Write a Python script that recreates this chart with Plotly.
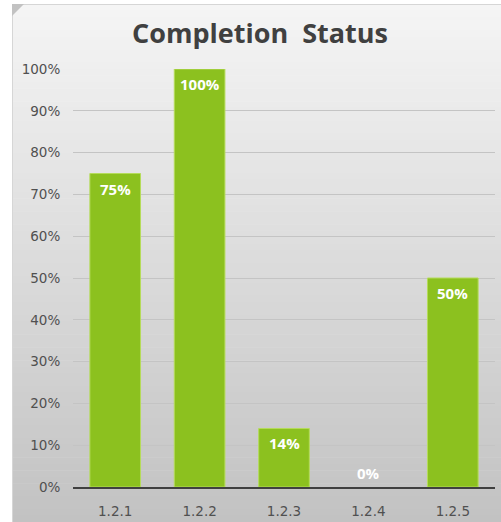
import plotly.graph_objects as go

categories = ["1.2.1", "1.2.2", "1.2.3", "1.2.4", "1.2.5"]
completion = [0.75, 1.00, 0.14, 0.00, 0.50]
tick_values = [0, 0.1, 0.2, 0.3, 0.4, 0.5, 0.6, 0.7, 0.8, 0.9, 1.0]
tick_labels = ["0%", "10%", "20%", "30%", "40%", "50%", "60%", "70%", "80%", "90%", "100%"]

W, H = 501, 522
ML, MR, MT, MB = 73, 6, 69, 35
pw, ph = W - ML - MR, H - MT - MB

def px_to_paper_x(px):
    return (px - ML) / pw

def px_to_paper_y(py):
    return (H - MB - py) / ph

fig = go.Figure()
fig.add_trace(go.Bar(
    x=categories, y=completion,
    marker=dict(color="#8cc11f",
                line=dict(color="#b5dc5a", width=[0 if v == 0 else 1 for v in completion])),
    width=0.6, hoverinfo="skip",
))

# background gradient stripes (decoration)
shapes = []
top_px, bot_px = 4, H
n = 80
c_top = (245, 245, 245)
c_bot = (194, 194, 194)
for i in range(n):
    y0 = top_px + (bot_px - top_px) * i / n
    y1 = top_px + (bot_px - top_px) * (i + 1) / n + 0.6
    t = (i + 0.5) / n
    c = tuple(int(round(c_top[k] + (c_bot[k] - c_top[k]) * t)) for k in range(3))
    shapes.append(dict(type="rect", xref="paper", yref="paper", layer="below",
                       x0=px_to_paper_x(12), x1=px_to_paper_x(W + 2),
                       y0=px_to_paper_y(y1), y1=px_to_paper_y(y0),
                       line=dict(width=0), fillcolor="rgb(%d,%d,%d)" % c))
# frame edges
shapes.append(dict(type="line", xref="paper", yref="paper", layer="below",
                   x0=px_to_paper_x(12.5), x1=px_to_paper_x(12.5),
                   y0=px_to_paper_y(4), y1=px_to_paper_y(H),
                   line=dict(color="#d6d6d6", width=1)))
shapes.append(dict(type="line", xref="paper", yref="paper", layer="below",
                   x0=px_to_paper_x(12), x1=px_to_paper_x(W),
                   y0=px_to_paper_y(4.5), y1=px_to_paper_y(4.5),
                   line=dict(color="#d6d6d6", width=1)))
# corner fold triangle
shapes.append(dict(type="path", xref="paper", yref="paper", layer="below",
                   path="M %f,%f L %f,%f L %f,%f Z" % (
                       px_to_paper_x(12), px_to_paper_y(4),
                       px_to_paper_x(24), px_to_paper_y(4),
                       px_to_paper_x(12), px_to_paper_y(16)),
                   line=dict(width=0), fillcolor="#c2c2c2"))

annotations = []
for cat, v in zip(categories, completion):
    annotations.append(dict(
        x=cat, y=v, xref="x", yref="y",
        text="<b>%d%%</b>" % round(v * 100), showarrow=False,
        yshift=(14 if v == 0 else -15), yanchor="middle",
        font=dict(family="Open Sans, DejaVu Sans, sans-serif", size=15, color="white"),
    ))

fig.update_layout(
    width=W, height=H,
    margin=dict(l=ML, r=MR, t=MT, b=MB, autoexpand=False),
    paper_bgcolor="white", plot_bgcolor="rgba(0,0,0,0)",
    showlegend=False,
    bargap=0.4,
    title=dict(text="<b>Completion  Status</b>", x=260 / W, xanchor="center",
               xref="container", y=1 - 34 / H, yanchor="middle",
               font=dict(family="Open Sans, DejaVu Sans, sans-serif", size=27, color="#404040")),
    shapes=shapes,
    annotations=annotations,
    font=dict(family="DejaVu Sans, sans-serif", color="#505050"),
)
fig.update_xaxes(showgrid=False, showline=True, linecolor="#404040", linewidth=2,
                 tickfont=dict(size=13.5, color="#505050"), ticks="outside",
                 ticklen=11, tickcolor="rgba(0,0,0,0)", fixedrange=True, automargin=False)
fig.update_yaxes(range=[0, 1.0], tickvals=tick_values, ticktext=tick_labels,
                 showgrid=True, gridcolor="#c4c4c4", gridwidth=1, zeroline=False,
                 showline=False, tickfont=dict(size=13.5, color="#505050"),
                 ticks="outside", ticklen=9, tickcolor="rgba(0,0,0,0)", fixedrange=True,
                 automargin=False)

fig.write_html("out.html", config={"displayModeBar": False},
               post_script="document.body.style.margin='0';document.body.style.overflow='hidden';")
